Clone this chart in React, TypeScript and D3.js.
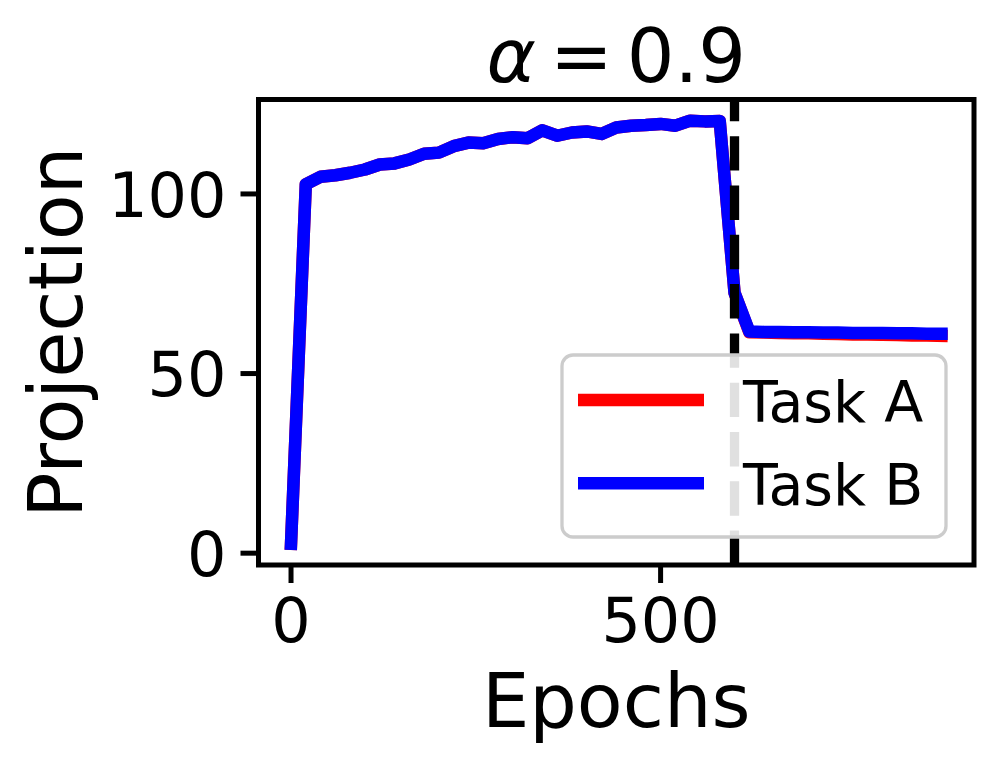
import React from 'react';
import * as d3 from 'd3';

// epochs are logged every 20 steps, task switch at epoch 600
const epochs = d3.range(0, 900, 20);
const switchEpoch = 600;

const taskB = [
  2.6, 102.7, 104.8, 105.2, 105.9, 106.8, 108.2, 108.5, 109.6, 111.2,
  111.5, 113.3, 114.3, 114.1, 115.3, 115.8, 115.5, 117.7, 116.2, 117.1,
  117.4, 116.7, 118.5, 119.0, 119.2, 119.5, 119.0, 120.4, 120.2, 120.3,
  72.5, 61.7, 61.6, 61.6, 61.5, 61.5, 61.4, 61.4, 61.3, 61.3,
  61.3, 61.2, 61.2, 61.1, 61.1,
];
const taskA = [
  2.6, 102.7, 104.8, 105.2, 105.9, 106.8, 108.2, 108.5, 109.6, 111.2,
  111.5, 113.3, 114.3, 114.1, 115.3, 115.8, 115.5, 117.7, 116.2, 117.1,
  117.4, 116.7, 118.5, 119.0, 119.2, 119.5, 119.0, 120.4, 120.2, 120.3,
  72.5, 61.5, 61.4, 61.3, 61.2, 61.2, 61.1, 61.0, 60.9, 60.9,
  60.8, 60.7, 60.6, 60.6, 60.5,
];
const xTicks = [0, 500];
const yTicks = [0, 50, 100];
const seriesNames = ['Task A', 'Task B'];
const seriesColors = ['#ff0000', '#0000ff'];

const W = 997, H = 766;
const box = { left: 258.5, right: 974, top: 99.5, bottom: 565 };
const font = 'DejaVu Sans';
const tickFs = 62;
const labelFs = 75;
const tickLen = 18;

// matplotlib-style 5% margins
function padded(ext: [number, number]): [number, number] {
  const p = (ext[1] - ext[0]) * 0.05;
  return [ext[0] - p, ext[1] + p];
}

export default function App() {
  const x = d3.scaleLinear()
    .domain(padded(d3.extent(epochs) as [number, number]))
    .range([box.left, box.right]);
  const y = d3.scaleLinear()
    .domain(padded(d3.extent(taskA.concat(taskB)) as [number, number]))
    .range([box.bottom, box.top]);

  const line = d3.line<number>()
    .x((d, i) => x(epochs[i]))
    .y(d => y(d));

  const lgW = 384, lgH = 182;
  const lgX = box.right - 28 - lgW, lgY = box.bottom - 28 - lgH;

  return (
    <svg width={W} height={H} viewBox={`0 0 ${W} ${H}`}
      style={{ position: 'absolute', left: 0, top: 0, background: '#fff' }}
      fontFamily={font}>
      <defs>
        <clipPath id="plot-clip">
          <rect x={box.left} y={box.top} width={box.right - box.left} height={box.bottom - box.top} />
        </clipPath>
      </defs>

      <g clipPath="url(#plot-clip)" fill="none" strokeWidth={12.5}
        strokeLinecap="square" strokeLinejoin="round">
        <path d={line(taskA) || ''} stroke={seriesColors[0]} />
        <path d={line(taskB) || ''} stroke={seriesColors[1]} />
        <line x1={x(switchEpoch)} x2={x(switchEpoch)} y1={box.bottom} y2={box.top}
          stroke="#000" strokeWidth={9.3} strokeDasharray="34.4 14.9" strokeLinecap="butt" />
      </g>

      {/* spines */}
      <rect x={box.left} y={box.top} width={box.right - box.left} height={box.bottom - box.top}
        fill="none" stroke="#000" strokeWidth={5} />

      {/* x ticks */}
      {xTicks.map(t => (
        <g key={'x' + t}>
          <line x1={x(t)} x2={x(t)} y1={box.bottom} y2={box.bottom + tickLen} stroke="#000" strokeWidth={5} />
          <text x={x(t)} y={box.bottom + tickLen + 14 + tickFs * 0.729} fontSize={tickFs} textAnchor="middle">{t}</text>
        </g>
      ))}

      {/* y ticks */}
      {yTicks.map(t => (
        <g key={'y' + t}>
          <line x1={box.left - tickLen} x2={box.left} y1={y(t)} y2={y(t)} stroke="#000" strokeWidth={5} />
          <text x={box.left - tickLen - 14} y={y(t) + tickFs * 0.364} fontSize={tickFs} textAnchor="end">{t}</text>
        </g>
      ))}

      <text x={(box.left + box.right) / 2} y={727} fontSize={labelFs} textAnchor="middle">Epochs</text>
      <text transform={`translate(82,${(box.top + box.bottom) / 2}) rotate(-90)`}
        fontSize={labelFs} textAnchor="middle">Projection</text>

      <text x={(box.left + box.right) / 2} y={82} fontSize={labelFs} textAnchor="middle">
        <tspan fontStyle="italic">α</tspan>
        <tspan dx={14}>=</tspan>
        <tspan dx={14}>0.9</tspan>
      </text>

      {/* legend */}
      <g>
        <rect x={lgX} y={lgY} width={lgW} height={lgH} rx={11} ry={11}
          fill="#fff" fillOpacity={0.88} stroke="#cccccc" strokeWidth={3.3} />
        {seriesNames.map((name, i) => (
          <g key={name}>
            <line x1={lgX + 16} x2={lgX + 142} y1={lgY + 45 + i * 83.3} y2={lgY + 45 + i * 83.3}
              stroke={seriesColors[i]} strokeWidth={12.5} />
            <text x={lgX + 181} y={lgY + 66.7 + i * 83.3} fontSize={57}>{name}</text>
          </g>
        ))}
      </g>
    </svg>
  );
}
